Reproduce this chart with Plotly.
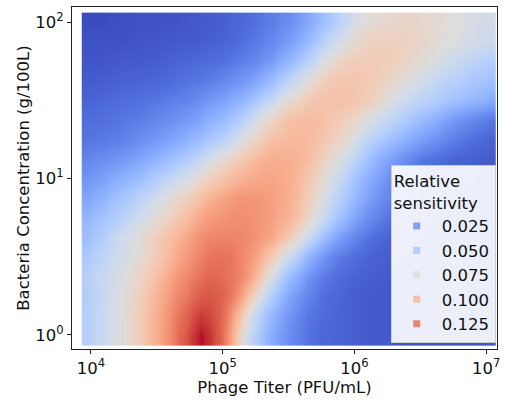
import numpy as np
import plotly.graph_objects as go
from plotly.colors import sample_colorscale

# ---- data ----
# cell edges in log10(Phage titer, PFU/mL)
log_titer_edges = [3.93, 4.01, 4.14, 4.30, 4.45, 4.60, 4.73, 4.80, 4.865, 4.94,
                   5.02, 5.095, 5.17, 5.245, 5.32, 5.435, 5.58, 5.70, 5.815, 5.94,
                   6.065, 6.195, 6.32, 6.445, 6.57, 6.695, 6.84, 6.99, 7.07]
# cell edges in log10(Bacteria concentration, g/100L)
log_bact_edges = [-0.07, 0.0625, 0.1875, 0.3125, 0.4375, 0.5625, 0.6875, 0.8125, 0.9375,
                  1.0625, 1.1875, 1.3125, 1.4375, 1.5625, 1.6875, 1.8125, 1.9375, 2.06]

# relative sensitivity, one list per bacteria-concentration row (low -> high)
sens_b000 = [0.056, 0.063, 0.075, 0.090, 0.107, 0.128, 0.141, 0.149, 0.143, 0.131, 0.111, 0.084, 0.063, 0.050,
             0.036, 0.023, 0.014, 0.009, 0.008, 0.006, 0.005, 0.005, 0.003, 0.003, 0.003, 0.003, 0.003, 0.003]
sens_b0125 = [0.056, 0.063, 0.075, 0.090, 0.107, 0.125, 0.135, 0.141, 0.138, 0.131, 0.116, 0.095, 0.072, 0.056,
              0.041, 0.026, 0.015, 0.011, 0.008, 0.006, 0.005, 0.005, 0.003, 0.003, 0.003, 0.003, 0.003, 0.003]
sens_b025 = [0.054, 0.062, 0.074, 0.087, 0.104, 0.119, 0.128, 0.132, 0.134, 0.131, 0.125, 0.113, 0.093, 0.074,
             0.054, 0.033, 0.020, 0.012, 0.009, 0.006, 0.005, 0.005, 0.003, 0.003, 0.003, 0.003, 0.003, 0.003]
sens_b0375 = [0.056, 0.063, 0.072, 0.084, 0.099, 0.114, 0.122, 0.126, 0.129, 0.128, 0.125, 0.120, 0.110, 0.095,
              0.071, 0.045, 0.027, 0.017, 0.011, 0.008, 0.006, 0.005, 0.003, 0.003, 0.003, 0.003, 0.003, 0.003]
sens_b050 = [0.051, 0.059, 0.068, 0.078, 0.092, 0.107, 0.116, 0.120, 0.125, 0.126, 0.125, 0.120, 0.114, 0.105,
             0.090, 0.065, 0.042, 0.027, 0.017, 0.011, 0.008, 0.006, 0.005, 0.003, 0.003, 0.003, 0.003, 0.003]
sens_b0625 = [0.045, 0.053, 0.066, 0.077, 0.090, 0.102, 0.111, 0.116, 0.119, 0.120, 0.120, 0.119, 0.117, 0.113,
              0.107, 0.090, 0.068, 0.048, 0.032, 0.020, 0.012, 0.008, 0.006, 0.005, 0.003, 0.003, 0.003, 0.003]
sens_b075 = [0.041, 0.047, 0.057, 0.068, 0.080, 0.092, 0.101, 0.107, 0.111, 0.114, 0.116, 0.117, 0.116, 0.114,
             0.110, 0.101, 0.084, 0.066, 0.048, 0.033, 0.021, 0.014, 0.009, 0.006, 0.005, 0.003, 0.003, 0.003]
sens_b0875 = [0.033, 0.039, 0.048, 0.059, 0.071, 0.083, 0.090, 0.096, 0.102, 0.107, 0.111, 0.114, 0.114, 0.113,
              0.110, 0.104, 0.090, 0.074, 0.057, 0.042, 0.029, 0.020, 0.014, 0.009, 0.006, 0.005, 0.003, 0.003]
sens_b100 = [0.026, 0.030, 0.038, 0.045, 0.056, 0.066, 0.075, 0.081, 0.087, 0.093, 0.098, 0.102, 0.105, 0.107,
             0.108, 0.104, 0.093, 0.080, 0.065, 0.048, 0.035, 0.024, 0.017, 0.011, 0.008, 0.006, 0.005, 0.003]
sens_b1125 = [0.020, 0.023, 0.027, 0.033, 0.041, 0.050, 0.057, 0.063, 0.071, 0.078, 0.084, 0.090, 0.096, 0.101,
              0.104, 0.104, 0.098, 0.087, 0.074, 0.059, 0.044, 0.032, 0.023, 0.015, 0.011, 0.008, 0.006, 0.005]
sens_b125 = [0.014, 0.015, 0.018, 0.023, 0.029, 0.035, 0.041, 0.045, 0.050, 0.056, 0.063, 0.071, 0.080, 0.087,
             0.095, 0.099, 0.099, 0.093, 0.084, 0.072, 0.057, 0.047, 0.038, 0.030, 0.023, 0.017, 0.011, 0.008]
sens_b1375 = [0.011, 0.012, 0.014, 0.017, 0.021, 0.026, 0.030, 0.033, 0.038, 0.042, 0.048, 0.054, 0.063, 0.074,
              0.084, 0.095, 0.098, 0.096, 0.090, 0.083, 0.072, 0.062, 0.053, 0.044, 0.036, 0.027, 0.020, 0.015]
sens_b150 = [0.008, 0.009, 0.011, 0.012, 0.015, 0.018, 0.021, 0.024, 0.027, 0.030, 0.035, 0.039, 0.045, 0.053,
             0.063, 0.080, 0.090, 0.095, 0.096, 0.093, 0.087, 0.075, 0.066, 0.059, 0.053, 0.047, 0.041, 0.036]
sens_b1625 = [0.005, 0.006, 0.007, 0.008, 0.009, 0.012, 0.014, 0.015, 0.017, 0.020, 0.023, 0.026, 0.030, 0.036,
              0.044, 0.060, 0.075, 0.087, 0.093, 0.093, 0.090, 0.084, 0.077, 0.069, 0.062, 0.056, 0.050, 0.047]
sens_b175 = [0.003, 0.003, 0.005, 0.005, 0.006, 0.008, 0.009, 0.010, 0.011, 0.012, 0.014, 0.017, 0.020, 0.023,
             0.029, 0.041, 0.056, 0.072, 0.083, 0.089, 0.090, 0.089, 0.084, 0.078, 0.072, 0.065, 0.059, 0.054]
sens_b1875 = [0.002, 0.002, 0.002, 0.003, 0.004, 0.005, 0.005, 0.006, 0.007, 0.008, 0.009, 0.011, 0.014, 0.017,
              0.021, 0.030, 0.042, 0.056, 0.069, 0.080, 0.086, 0.087, 0.086, 0.083, 0.078, 0.074, 0.069, 0.066]
sens_b200 = [0.000, 0.000, 0.001, 0.002, 0.002, 0.003, 0.004, 0.005, 0.005, 0.006, 0.008, 0.009, 0.011, 0.014,
             0.017, 0.023, 0.033, 0.045, 0.057, 0.071, 0.078, 0.081, 0.083, 0.081, 0.078, 0.075, 0.071, 0.069]

legend_values = [0.025, 0.050, 0.075, 0.100, 0.125]
legend_labels = ["0.025", "0.050", "0.075", "0.100", "0.125"]
x_tick_exps = [4, 5, 6, 7]
y_tick_exps = [0, 1, 2]

# ---- styling ----
SENS_MIN, SENS_MAX = 0.0, 0.15
coolwarm_rgb = [
    (59, 76, 192), (68, 90, 204), (77, 104, 215), (87, 117, 225), (98, 130, 234),
    (108, 142, 241), (119, 154, 247), (130, 165, 251), (141, 176, 254), (152, 185, 255),
    (163, 194, 255), (174, 201, 253), (184, 208, 249), (194, 213, 244), (204, 217, 238),
    (213, 219, 230), (221, 221, 221), (229, 216, 209), (236, 211, 197), (241, 204, 184),
    (245, 196, 172), (247, 187, 159), (247, 177, 147), (247, 166, 134), (244, 154, 123),
    (241, 141, 111), (236, 127, 99), (229, 112, 89), (222, 96, 77), (213, 80, 69),
    (203, 62, 56), (192, 40, 47), (180, 4, 38)]
coolwarm = [[i / (len(coolwarm_rgb) - 1), "rgb(%d,%d,%d)" % c] for i, c in enumerate(coolwarm_rgb)]

FONT = "DejaVu Sans"
FS = 16.5
TXT = "#111111"

z = [sens_b000, sens_b0125, sens_b025, sens_b0375, sens_b050, sens_b0625, sens_b075, sens_b0875,
     sens_b100, sens_b1125, sens_b125, sens_b1375, sens_b150, sens_b1625, sens_b175, sens_b1875,
     sens_b200]

fig = go.Figure()
fig.add_trace(go.Heatmap(
    x=log_titer_edges, y=log_bact_edges, z=z,
    colorscale=coolwarm, zmin=SENS_MIN, zmax=SENS_MAX, zsmooth="best",
    showscale=False, hoverinfo="skip", showlegend=False))

legend_colors = sample_colorscale(coolwarm, [(v - SENS_MIN) / (SENS_MAX - SENS_MIN) for v in legend_values])
for lab, col in zip(legend_labels, legend_colors):
    fig.add_trace(go.Scatter(
        x=[None], y=[None], mode="markers", name=lab,
        marker=dict(symbol="square", size=7, color=col, opacity=0.85)))

XR = [3.856, 7.083]
YR = [-0.0895, 2.096]

x_minor = [float(np.log10(k * 10.0 ** n)) for n in range(3, 8) for k in range(2, 10)]
x_minor = [m for m in x_minor if XR[0] < m < XR[1]]
y_minor = [float(np.log10(k * 10.0 ** n)) for n in range(-1, 3) for k in range(2, 10)]
y_minor = [m for m in y_minor if YR[0] < m < YR[1]]

axis_common = dict(showgrid=False, zeroline=False, ticks="outside", tickwidth=1,
                   tickcolor="#222", color=TXT,
                   tickfont=dict(family=FONT, size=FS, color=TXT))

fig.update_layout(
    width=507, height=401,
    margin=dict(l=72, r=10, t=7, b=52),
    paper_bgcolor="white", plot_bgcolor="white",
    font=dict(family=FONT, size=FS, color=TXT),
    xaxis=dict(range=XR, tickvals=x_tick_exps,
               ticktext=["10<sup>%d</sup>" % e for e in x_tick_exps],
               ticklen=4, showline=True, mirror=True, linecolor="#222", linewidth=1,
               title=dict(text="Phage Titer (PFU/mL)", standoff=0,
                          font=dict(family=FONT, size=FS, color=TXT)),
               **axis_common),
    xaxis2=dict(range=XR, overlaying="x", anchor="y", side="bottom",
                tickvals=x_minor, ticklen=2, showticklabels=False, showline=False,
                **axis_common),
    yaxis=dict(range=YR, tickvals=y_tick_exps,
               ticktext=["10<sup>%d</sup>" % e for e in y_tick_exps],
               ticklen=4, showline=True, mirror=True, linecolor="#222", linewidth=1,
               title=dict(text="Bacteria Concentration (g/100L)", standoff=1,
                          font=dict(family=FONT, size=FS, color=TXT)),
               **axis_common),
    yaxis2=dict(range=YR, overlaying="y", anchor="x", side="left",
                tickvals=y_minor, ticklen=2, showticklabels=False, showline=False,
                **axis_common),
    legend=dict(
        title=dict(text="Relative<br>sensitivity", font=dict(family=FONT, size=FS, color=TXT)),
        font=dict(family=FONT, size=FS, color=TXT),
        x=0.997, y=0.018, xanchor="right", yanchor="bottom",
        bgcolor="rgba(255,255,255,0.9)", bordercolor="#cccccc", borderwidth=1,
        itemwidth=40),
)

fig.write_html("out.html", config={"displayModeBar": False},
               post_script="document.body.style.margin='0';")
